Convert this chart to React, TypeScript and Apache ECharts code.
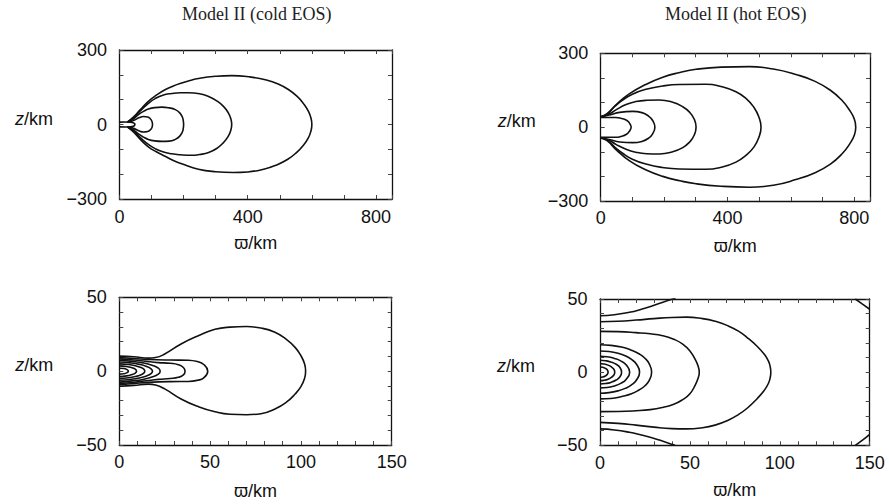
import React, { useEffect, useRef } from "react";
import * as echarts from "echarts";

type Pt = [number, number];

// ---------- titles & axis labels ----------
const titleCold = "Model II (cold EOS)";
const titleHot = "Model II (hot EOS)";
const xName = "\u03d6/km";
const yName = "{i|z}/km";

// ---------- axis ranges and tick labels ----------
const topXRange = [0, 850, 100];
const topYRange = [-300, 300, 100];
const botXRange = [0, 150, 10];
const botYRange = [-50, 50, 10];
const topXLabels = [0, 400, 800];
const topYLabels = [-300, 0, 300];
const botXLabels = [0, 50, 100, 150];
const botYLabels = [-50, 0, 50];

// ---------- Panel 1: cold EOS, large scale ----------
const coldTopTube: Pt[] = [[0,9.5],[20,9.8],[34,9.3],[43,7],[47,3.5],[48,0],[47,-3.5],[43,-7],[34,-9.3],[20,-9.8],[0,-9.5]];
const coldTopA: Pt[] = [[28,10],[40,14],[50,20],[62,28],[75,32],[88,30],[96,23],[101,13],[103,0],[101,-13],[96,-22],[88,-28],[75,-30],[62,-26],[50,-19],[40,-13],[28,-10]];
const coldTopB: Pt[] = [[25,10],[42,21],[59,40],[75,53],[90,62],[110,68],[132,70],[155,67],[174,60],[188,47],[196,30],[199,15],[200,0],[199,-15],[196,-30],[188,-47],[174,-60],[155,-67],[132,-68],[110,-66],[90,-60],[75,-51],[59,-38],[42,-20],[25,-10]];
const coldTopC: Pt[] = [[25,10],[45,30],[69,60],[90,85],[111,104],[135,118],[163,125],[190,128],[215,128],[250,124],[278,113],[305,94],[325,72],[339,48],[347,24],[350,0],[347,-24],[339,-48],[325,-72],[305,-95],[278,-113],[250,-121],[225,-124],[190,-122],[163,-118],[135,-110],[111,-97],[90,-80],[69,-58],[45,-29],[25,-10]];
const coldTopD: Pt[] = [[25,10],[45,32],[65,60],[90,93],[115,118],[142,140],[168,155],[194,167],[220,177],[246,185],[300,194],[350,197],[405,192],[455,180],[495,163],[528,140],[555,112],[574,84],[589,54],[597,27],[600,0],[597,-27],[589,-54],[574,-83],[552,-113],[525,-140],[490,-163],[450,-180],[400,-191],[355,-193],[300,-190],[246,-180],[194,-158],[168,-145],[142,-128],[115,-110],[90,-90],[65,-60],[45,-32],[25,-10]];

// ---------- Panel 2: hot EOS, large scale ----------
const hotTopI: Pt[] = [[0,39],[25,39],[48,39],[66,35],[80,29],[90,18],[94,9],[96,0],[94,-9],[90,-18],[80,-30],[66,-37],[48,-41],[25,-41],[0,-41]];
const hotTopH: Pt[] = [[0,42],[27,49],[60,60],[101,64],[130,59],[151,45],[164,27],[171,0],[164,-27],[151,-45],[130,-58],[101,-63],[60,-60],[27,-50],[0,-44]];
const hotTopG: Pt[] = [[0,42],[25,52],[48,70],[80,92],[111,104],[145,109],[185,110],[225,102],[259,83],[281,60],[295,33],[301,0],[295,-33],[281,-60],[259,-83],[225,-101],[185,-109],[145,-108],[111,-102],[80,-90],[48,-70],[25,-52],[0,-44]];
const hotTopF: Pt[] = [[0,42],[20,52],[45,85],[69,110],[100,134],[143,154],[195,167],[248,173],[332,174],[380,165],[427,144],[460,115],[484,80],[499,42],[506,0],[499,-42],[484,-80],[460,-113],[427,-142],[380,-163],[332,-171],[248,-170],[195,-164],[143,-150],[100,-130],[69,-106],[45,-82],[20,-52],[0,-44]];
const hotTopE: Pt[] = [[0,42],[20,55],[50,93],[90,135],[140,172],[196,203],[250,222],[301,235],[380,244],[469,246],[545,236],[616,214],[675,187],[725,150],[762,108],[788,64],[801,31],[805,0],[801,-31],[788,-64],[762,-108],[725,-150],[675,-186],[616,-213],[545,-236],[470,-244],[380,-240],[301,-230],[250,-218],[196,-200],[140,-172],[90,-136],[50,-93],[20,-55],[0,-44]];

// ---------- Panel 3: cold EOS, inner region ----------
const coldBotR1: Pt[] = [[0,2],[2.5,1.8],[4,1.2],[5,0],[4,-1.2],[2.5,-1.8],[0,-2]];
const coldBotR2: Pt[] = [[0,3.6],[4,3.2],[7,2.3],[8.8,1.3],[9.5,0],[8.8,-1.3],[7,-2.3],[4,-3.2],[0,-3.6]];
const coldBotR3: Pt[] = [[0,4.9],[5,4.5],[9,3.6],[12,2.4],[13.6,1.2],[14,0],[13.6,-1.2],[12,-2.4],[9,-3.6],[5,-4.5],[0,-4.9]];
const coldBotR4: Pt[] = [[0,6.2],[6,5.6],[11,4.6],[15,3.2],[17.5,1.6],[18.3,0],[17.5,-1.6],[15,-3.2],[11,-4.6],[6,-5.6],[0,-6.2]];
const coldBotR5: Pt[] = [[0,7.4],[7,6.6],[13,5.6],[18,4],[21.5,2],[22.5,0],[21.5,-2],[18,-4],[13,-5.6],[7,-6.6],[0,-7.4]];
const coldBotR6: Pt[] = [[0,8.3],[8,7.6],[15,6.6],[21.5,5.8],[28,5.3],[32.5,4.4],[35.3,2.5],[36.2,0],[35.3,-2.5],[32.5,-4.2],[28,-5],[21.5,-5.6],[15,-6.5],[8,-7.5],[0,-8.3]];
const coldBotR7: Pt[] = [[0,9.2],[8,8.6],[16,7.9],[28,7.5],[38,7.4],[43,6.5],[46.5,4.5],[48.7,0],[46.5,-4.5],[43,-6.2],[38,-7],[28,-7.1],[16,-7.6],[8,-8.4],[0,-9.2]];
const coldBotO: Pt[] = [[0,10.2],[8,9.7],[16,8.8],[20,9.2],[25,11.6],[34,18.4],[43.5,24],[52.7,28.3],[61,29.8],[70,30.2],[78,29.2],[85.7,26.3],[92,21.5],[96.8,16.1],[100,10.5],[102,5],[102.6,0],[102,-5],[100,-10.5],[96.8,-15.5],[92,-21],[85.7,-25.6],[78,-28.8],[70,-29.5],[61,-29.2],[52.7,-27.5],[43.5,-24],[34,-18.8],[25,-12],[20,-9.4],[16,-8.8],[8,-9.6],[0,-10.2]];

// ---------- Panel 4: hot EOS, inner region ----------
const hotBotTopOpen: Pt[] = [[0,38.6],[8,39.2],[16.3,40.9],[23,43],[29.3,45.4],[35,47.8],[40.4,50],[42,50.7]];
const hotBotBotOpen: Pt[] = [[0,-38.8],[8,-39.5],[16.3,-41.1],[23,-43],[29.3,-45],[35,-47.2],[40.4,-49.5],[42,-50.3]];
const hotBotQ1: Pt[] = [[0,34.4],[10,34.8],[20,35.6],[30,36.6],[40,37.4],[48,37.6],[57,36.6],[64,34.8],[71,31.8],[77,28],[82,23.5],[87.5,17.5],[91.5,12],[93.7,7.5],[94.7,3.5],[95,0],[94.7,-3.5],[93.7,-7.6],[91.5,-12.2],[87.5,-18],[82,-24.5],[77,-29],[71,-33],[64,-36.2],[57,-38],[48,-38.8],[40,-38.6],[30,-37.6],[20,-36.2],[10,-35],[0,-34.3]];
const hotBotQ2: Pt[] = [[0,27.9],[10,27.7],[20,27],[28,26.2],[34.9,24.9],[41,22.5],[46,19.2],[50,14.5],[52.8,9],[54.6,4],[55.2,0],[54.6,-4],[52.8,-9.2],[50,-14.8],[46,-18.8],[41,-22],[34.9,-24.1],[28,-25.6],[20,-26.4],[10,-26.9],[0,-27]];
const hotBotQ3: Pt[] = [[0,18.7],[6,18.3],[12.6,17],[17.5,15],[21.9,12.4],[25,9.5],[27.4,5.6],[28.7,0],[27.4,-5.6],[25,-9.3],[21.9,-12],[17.5,-14.8],[12.6,-16.5],[6,-18],[0,-18.3]];
const hotBotQ4: Pt[] = [[0,14.5],[5,14.1],[10,12.9],[14,11.2],[17.5,8.7],[20.3,5.4],[22,0],[20.3,-5.4],[17.5,-8.7],[14,-11.1],[10,-12.8],[5,-14],[0,-14.4]];
const hotBotQ5: Pt[] = [[0,10.8],[4,10.5],[8,9.4],[11.5,7.7],[14.5,5],[16.5,0],[14.5,-5],[11.5,-7.7],[8,-9.4],[4,-10.5],[0,-10.8]];
const hotBotQ6: Pt[] = [[0,8.1],[3,7.8],[6,7],[9,5.4],[11,3.3],[12,0],[11,-3.3],[9,-5.4],[6,-7],[3,-7.8],[0,-8.1]];
const hotBotQ7: Pt[] = [[0,5.8],[2,5.6],[4.5,4.8],[6.5,3.4],[7.8,1.8],[8.2,0],[7.8,-1.8],[6.5,-3.4],[4.5,-4.8],[2,-5.6],[0,-5.8]];
const hotBotQ8: Pt[] = [[0,3.5],[1.5,3.3],[3,2.6],[4,1.6],[4.5,0],[4,-1.6],[3,-2.6],[1.5,-3.3],[0,-3.5]];
const hotBotCornerTop: Pt[] = [[142,50],[146,46.5],[150,43]];
const hotBotCornerBot: Pt[] = [[142,-50],[146,-46.5],[150,-42.5]];

const panelContours: Pt[][][] = [
  [coldTopTube, coldTopA, coldTopB, coldTopC, coldTopD],
  [hotTopI, hotTopH, hotTopG, hotTopF, hotTopE],
  [coldBotR1, coldBotR2, coldBotR3, coldBotR4, coldBotR5, coldBotR6, coldBotR7, coldBotO],
  [hotBotTopOpen, hotBotBotOpen, hotBotQ1, hotBotQ2, hotBotQ3, hotBotQ4, hotBotQ5, hotBotQ6, hotBotQ7, hotBotQ8, hotBotCornerTop, hotBotCornerBot],
];

const SANS = "'Liberation Sans', Arial, Helvetica, sans-serif";
const SERIF = "'Liberation Serif', 'Times New Roman', serif";
const INK = "#111";

function fmt(labels: number[]) {
  return (v: number) => {
    const r = Math.round(v * 1000) / 1000;
    if (!labels.includes(r)) return "";
    return r < 0 ? "\u2212" + String(-r) : String(r);
  };
}

export default function App() {
  const ref = useRef<HTMLDivElement>(null);

  useEffect(() => {
    if (!ref.current) return;
    const chart = echarts.init(ref.current, undefined, { renderer: "svg" });

    const grids = [
      { left: 119.5, top: 50, width: 272.5, height: 149 },
      { left: 600.7, top: 53.3, width: 269.3, height: 147.7 },
      { left: 119.3, top: 297.3, width: 272.4, height: 147.7 },
      { left: 600, top: 299, width: 269.7, height: 146.3 },
    ];
    const cfg = [
      { xr: topXRange, yr: topYRange, xl: topXLabels, yl: topYLabels, xMargin: 9, xGap: 35, yGap: 66.5 },
      { xr: topXRange, yr: topYRange, xl: topXLabels, yl: topYLabels, xMargin: 8, xGap: 35.5, yGap: 65 },
      { xr: botXRange, yr: botYRange, xl: botXLabels, yl: botYLabels, xMargin: 7.5, xGap: 37, yGap: 66 },
      { xr: botXRange, yr: botYRange, xl: botXLabels, yl: botYLabels, xMargin: 9, xGap: 35.5, yGap: 65 },
    ];

    const lineStyle = { color: INK, width: 1.3 };
    const tick = { show: true, inside: true, length: 4, lineStyle: { color: "#444", width: 1 } };
    const labelStyle = { fontSize: 18, color: INK, fontFamily: SANS };
    const nameStyle = {
      fontSize: 18,
      color: INK,
      fontFamily: SANS,
      rich: { i: { fontSize: 18, fontStyle: "italic", color: INK, fontFamily: SANS } },
    };

    const xAxis: any[] = [];
    const yAxis: any[] = [];
    cfg.forEach((c, i) => {
      const base = { gridIndex: i, type: "value", splitLine: { show: false }, axisLine: { show: true, onZero: false, lineStyle } };
      xAxis.push({
        ...base,
        position: "bottom",
        min: c.xr[0], max: c.xr[1], interval: c.xr[2],
        axisTick: tick,
        axisLabel: { ...labelStyle, margin: c.xMargin, formatter: fmt(c.xl) },
        name: xName, nameLocation: "middle", nameGap: c.xGap, nameTextStyle: nameStyle,
      });
      xAxis.push({
        ...base,
        position: "top",
        min: c.xr[0], max: c.xr[1], interval: c.xr[2],
        axisTick: tick,
        axisLabel: { show: false },
      });
      yAxis.push({
        ...base,
        position: "left",
        min: c.yr[0], max: c.yr[1], interval: c.yr[2],
        axisTick: tick,
        axisLabel: { ...labelStyle, margin: 12.5, formatter: fmt(c.yl) },
        name: yName, nameLocation: "middle", nameRotate: 0, nameGap: c.yGap,
        nameTextStyle: { ...nameStyle, padding: [0, 0, 12, 0] },
      });
      yAxis.push({
        ...base,
        position: "right",
        min: c.yr[0], max: c.yr[1], interval: c.yr[2],
        axisTick: tick,
        axisLabel: { show: false },
      });
    });

    const series: any[] = [];
    panelContours.forEach((contours, i) => {
      contours.forEach((pts) => {
        series.push({
          type: "line",
          xAxisIndex: 2 * i,
          yAxisIndex: 2 * i,
          data: pts,
          smooth: 0.5,
          symbol: "none",
          showSymbol: false,
          clip: true,
          silent: true,
          lineStyle: { color: INK, width: 1.6 },
        });
      });
    });

    chart.setOption({
      animation: false,
      backgroundColor: "#ffffff",
      title: [
        { text: titleCold, left: 256.7, top: 5, textAlign: "center", padding: 0,
          textStyle: { fontSize: 18, fontWeight: "normal", color: "#222", fontFamily: SERIF } },
        { text: titleHot, left: 735.7, top: 5, textAlign: "center", padding: 0,
          textStyle: { fontSize: 18, fontWeight: "normal", color: "#222", fontFamily: SERIF } },
      ],
      grid: grids.map((g) => ({ ...g, containLabel: false })),
      xAxis,
      yAxis,
      series,
    });

    return () => chart.dispose();
  }, []);

  return (
    <div
      ref={ref}
      style={{ position: "absolute", left: 0, top: 0, width: 889, height: 504, background: "#fff" }}
    />
  );
}
